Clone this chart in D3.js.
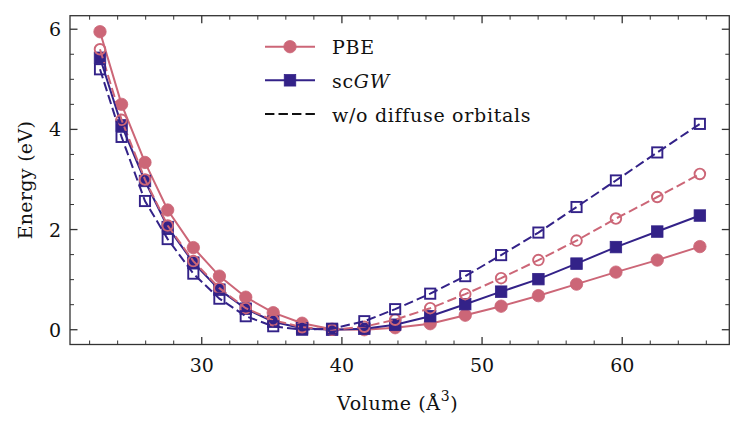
<!DOCTYPE html>
<html>
<head>
<meta charset="utf-8">
<script src="https://cdn.jsdelivr.net/npm/d3@7"></script>
<style>
  html, body { margin: 0; padding: 0; background: #fff; }
</style>
</head>
<body>
<svg id="chart" width="747" height="432"></svg>
<script>
// ---- data ----
const volumes = [22.74, 24.28, 25.95, 27.57, 29.4, 31.26, 33.14, 35.1, 37.16, 39.3, 41.6, 43.8, 46.3, 48.8, 51.36, 54.02, 56.74, 59.55, 62.5, 65.54];
const pbe      = [5.95, 4.50, 3.34, 2.39, 1.64, 1.07, 0.65, 0.34, 0.13, 0.01, 0.00, 0.04, 0.12, 0.29, 0.47, 0.68, 0.91, 1.15, 1.39, 1.66];
const pbeNoDiff = [5.60, 4.19, 3.00, 2.08, 1.37, 0.83, 0.43, 0.19, 0.05, 0.00, 0.06, 0.20, 0.43, 0.71, 1.03, 1.39, 1.78, 2.22, 2.65, 3.11];
const gw       = [5.43, 4.08, 2.97, 2.05, 1.34, 0.80, 0.42, 0.16, 0.03, 0.00, 0.02, 0.10, 0.27, 0.51, 0.76, 1.01, 1.32, 1.65, 1.96, 2.28];
const gwNoDiff  = [5.20, 3.85, 2.57, 1.81, 1.12, 0.62, 0.27, 0.07, 0.00, 0.02, 0.17, 0.41, 0.72, 1.07, 1.49, 1.94, 2.45, 2.98, 3.54, 4.11];
const xTicks = [30, 40, 50, 60];
const yTicks = [0, 2, 4, 6];
const xLabel = "Volume (Å";
const yLabel = "Energy (eV)";

const PINK = "#cc6677", NAVY = "#332288";
const FONT = "DejaVu Serif";

const svg = d3.select("#chart");
const L = 70, R = 729.3, T = 15.7, B = 344.5;
const x = d3.scaleLinear().domain([20.6, 67.64]).range([L, R]);
const y = d3.scaleLinear().domain([-0.295, 6.27]).range([B, T]);

const series = [
  { vals: pbe,       color: PINK, dash: null,       marker: "circle", filled: true },
  { vals: gw,        color: NAVY, dash: null,       marker: "square", filled: true },
  { vals: pbeNoDiff, color: PINK, dash: "9.4,4.1",  marker: "circle", filled: false },
  { vals: gwNoDiff,  color: NAVY, dash: "9.4,4.1",  marker: "square", filled: false }
];

const line = d3.line().x(d => x(d[0])).y(d => y(d[1]));
const plot = svg.append("g");

function drawMarker(g, kind, filled, color, cx, cy) {
  if (kind === "circle") {
    g.append("circle").attr("cx", cx).attr("cy", cy)
      .attr("r", filled ? 6.2 : 5.3)
      .attr("fill", filled ? color : "none")
      .attr("stroke", color).attr("stroke-width", filled ? 0.8 : 1.9);
  } else {
    const s = filled ? 11.5 : 10.2;
    g.append("rect").attr("x", cx - s / 2).attr("y", cy - s / 2)
      .attr("width", s).attr("height", s)
      .attr("fill", filled ? color : "none")
      .attr("stroke", color).attr("stroke-width", filled ? 0.8 : 1.9);
  }
}

series.forEach(s => {
  const pts = volumes.map((v, i) => [v, s.vals[i]]);
  const g = plot.append("g");
  g.append("path").datum(pts).attr("d", line)
    .attr("fill", "none").attr("stroke", s.color).attr("stroke-width", 2)
    .attr("stroke-dasharray", s.dash);
  pts.forEach(p => drawMarker(g, s.marker, s.filled, s.color, x(p[0]), y(p[1])));
});

const axisColor = "#333";
svg.append("rect").attr("x", L).attr("y", T).attr("width", R - L).attr("height", B - T)
  .attr("fill", "none").attr("stroke", axisColor).attr("stroke-width", 1.3);

const xMinor = d3.range(22, 67.64, 2).filter(v => !xTicks.includes(v));
const yMinor = d3.range(0, 6.27, 0.5).filter(v => !yTicks.includes(v));

function xTickMarks(vals, len, w) {
  vals.forEach(v => {
    svg.append("line").attr("x1", x(v)).attr("x2", x(v)).attr("y1", B).attr("y2", B - len)
      .attr("stroke", axisColor).attr("stroke-width", w);
    svg.append("line").attr("x1", x(v)).attr("x2", x(v)).attr("y1", T).attr("y2", T + len)
      .attr("stroke", axisColor).attr("stroke-width", w);
  });
}
function yTickMarks(vals, len, w) {
  vals.forEach(v => {
    svg.append("line").attr("x1", L).attr("x2", L + len).attr("y1", y(v)).attr("y2", y(v))
      .attr("stroke", axisColor).attr("stroke-width", w);
    svg.append("line").attr("x1", R).attr("x2", R - len).attr("y1", y(v)).attr("y2", y(v))
      .attr("stroke", axisColor).attr("stroke-width", w);
  });
}
xTickMarks(xTicks, 7.5, 1.3);
xTickMarks(xMinor, 4, 1.0);
yTickMarks(yTicks, 7.5, 1.3);
yTickMarks(yMinor, 4, 1.0);

function txt(sel) { return sel.attr("font-family", FONT).attr("fill", "#111"); }

txt(svg.selectAll(".xt").data(xTicks).enter().append("text"))
  .attr("x", d => x(d)).attr("y", B + 27).attr("text-anchor", "middle")
  .attr("font-size", 19).text(d => d);
txt(svg.selectAll(".yt").data(yTicks).enter().append("text"))
  .attr("x", L - 9).attr("y", d => y(d) + 7).attr("text-anchor", "end")
  .attr("font-size", 19).text(d => d);

const xl = txt(svg.append("text"))
  .attr("x", (L + R) / 2 - 2).attr("y", 410).attr("letter-spacing", 0.6)
  .attr("text-anchor", "middle").attr("font-size", 19);
xl.append("tspan").text(xLabel);
xl.append("tspan").attr("dy", -9).attr("font-size", 14).text("3");
xl.append("tspan").attr("dy", 9).text(")");

txt(svg.append("text"))
  .attr("transform", `translate(32, ${(T + B) / 2}) rotate(-90)`).attr("letter-spacing", 0.3)
  .attr("text-anchor", "middle").attr("font-size", 19).text(yLabel);

const legend = svg.append("g");
const lx0 = 265, lx1 = 315, tx = 332;
const rows = [46.7, 80.3, 114];
legend.append("line").attr("x1", lx0).attr("x2", lx1).attr("y1", rows[0]).attr("y2", rows[0])
  .attr("stroke", PINK).attr("stroke-width", 2);
drawMarker(legend, "circle", true, PINK, (lx0 + lx1) / 2, rows[0]);
txt(legend.append("text")).attr("x", tx).attr("y", rows[0] + 7.5).attr("font-size", 19)
  .attr("letter-spacing", 0.7).text("PBE");
legend.append("line").attr("x1", lx0).attr("x2", lx1).attr("y1", rows[1]).attr("y2", rows[1])
  .attr("stroke", NAVY).attr("stroke-width", 2);
drawMarker(legend, "square", true, NAVY, (lx0 + lx1) / 2, rows[1]);
const t2 = txt(legend.append("text")).attr("x", tx).attr("y", rows[1] + 7.5).attr("font-size", 19)
  .attr("letter-spacing", 0.7);
t2.append("tspan").text("sc");
t2.append("tspan").attr("font-style", "italic").text("GW");
legend.append("line").attr("x1", lx0).attr("x2", lx1).attr("y1", rows[2]).attr("y2", rows[2])
  .attr("stroke", "#111").attr("stroke-width", 2).attr("stroke-dasharray", "9.4,4.1");
txt(legend.append("text")).attr("x", tx).attr("y", rows[2] + 7.5).attr("font-size", 19)
  .attr("letter-spacing", 0.7).text("w/o diffuse orbitals");
</script>
</body>
</html>
